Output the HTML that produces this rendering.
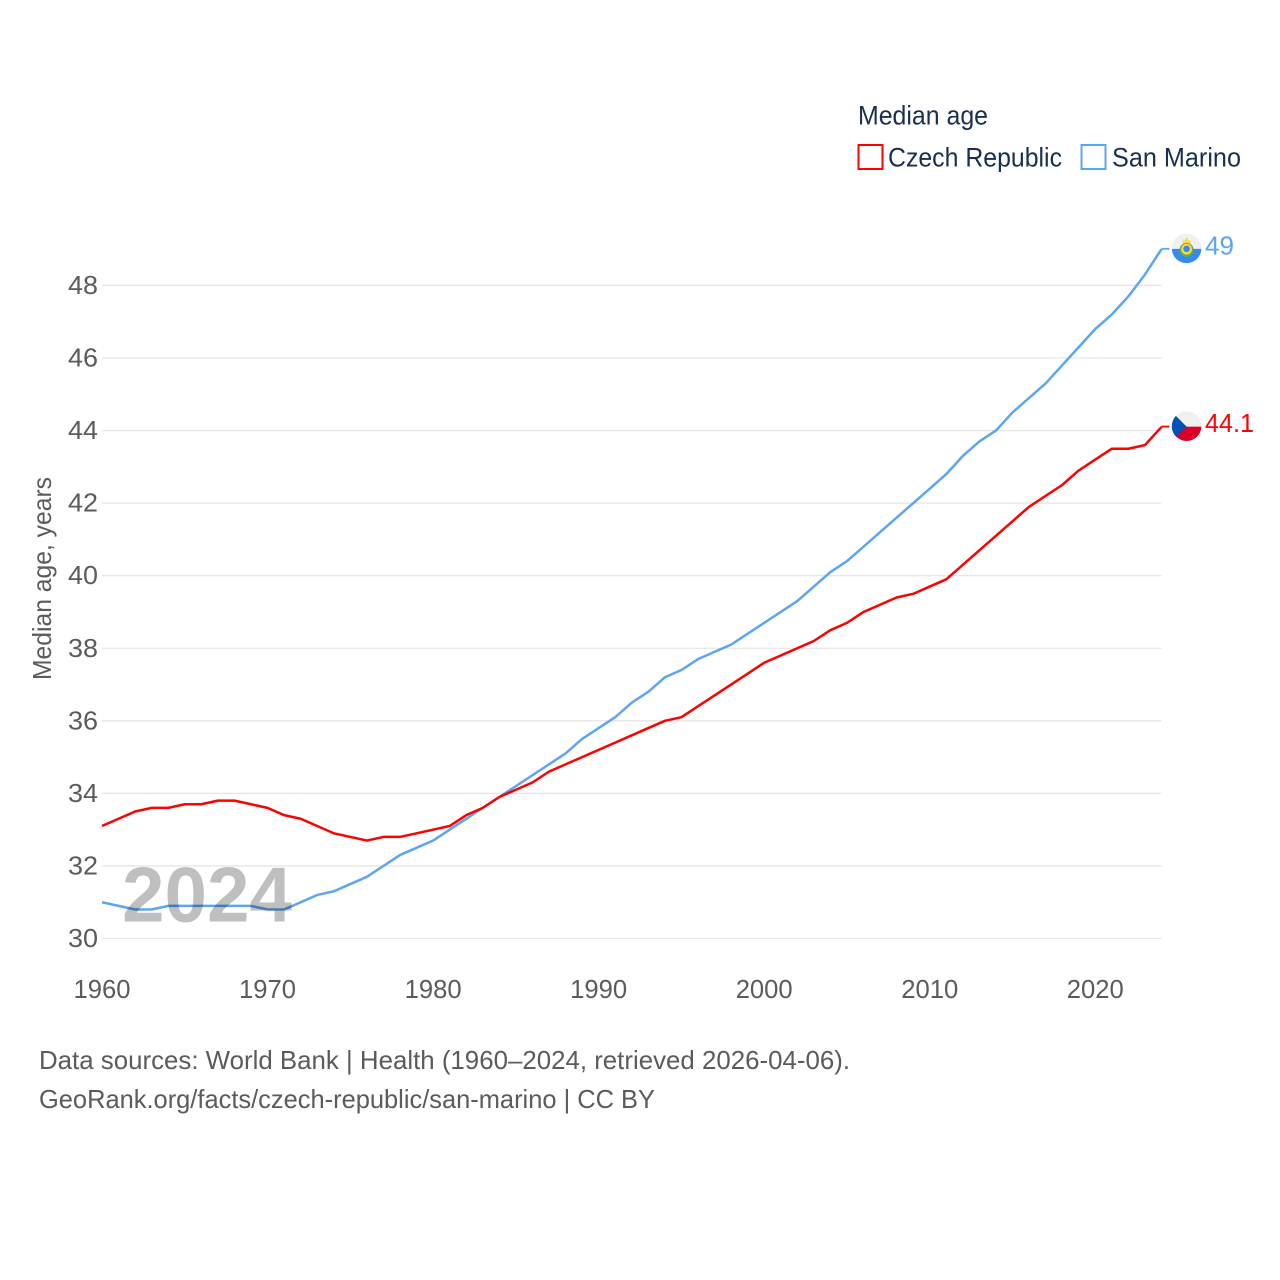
<!DOCTYPE html>
<html lang="en">
<head>
<meta charset="utf-8">
<title>Median age: Czech Republic and San Marino</title>
<style>
  html, body { margin: 0; padding: 0; background: #fff; }
  #chart { display: block; width: 1280px; height: 1280px; font-family: "Liberation Sans", sans-serif; }
  .tick { font-size: 26px; fill: #5b5b5b; }
  .legend { font-size: 27px; fill: #1a2f50; }
  .foot { font-size: 26px; fill: #5b5b5b; }
</style>
</head>
<body>
<svg id="chart" width="1280" height="1280" viewBox="0 0 1280 1280" xmlns="http://www.w3.org/2000/svg">
  <rect x="0" y="0" width="1280" height="1280" fill="#ffffff"/>
  <defs>
    <clipPath id="flag-clip"><circle cx="0" cy="0" r="14.8"/></clipPath>
  </defs>

  <g>
    <text class="legend" x="858" y="124.5" textLength="130" lengthAdjust="spacingAndGlyphs">Median age</text>
    <g>
      <rect x="858.5" y="145" width="24" height="24" fill="#fff" stroke="#ff0000" stroke-width="2"/>
      <text class="legend" x="888" y="166.5" textLength="174" lengthAdjust="spacingAndGlyphs">Czech Republic</text>
    </g>
    <g>
      <rect x="1081.5" y="145" width="24" height="24" fill="#fff" stroke="#5da5f0" stroke-width="2"/>
      <text class="legend" x="1112" y="166.5" textLength="129" lengthAdjust="spacingAndGlyphs">San Marino</text>
    </g>
  </g>

  <g id="grid"></g>
  <g id="y-axis"></g>
  <g id="x-axis"></g>

  <text class="tick" transform="translate(51,680) rotate(-90)" x="0" y="0" textLength="203" lengthAdjust="spacingAndGlyphs">Median age, years</text>

  <g id="series"></g>

  <text x="122" y="921.5" font-size="78" font-weight="700" fill="#000000" fill-opacity="0.25" textLength="170" lengthAdjust="spacingAndGlyphs">2024</text>

  <g id="flag-sm" clip-path="url(#flag-clip)">
    <rect x="-16" y="-16" width="32" height="16.5" fill="#f0f0f0"/>
    <rect x="-16" y="0.5" width="32" height="16" fill="#338af3"/>
    <path d="M-3.5 -4 L-4 -8 L-1.5 -8 L-1 -10.5 L1 -10.5 L1.5 -8 L4 -8 L3.5 -4 Z" fill="#ffda44"/>
    <circle cx="0" cy="1.5" r="7" fill="#6da544"/>
    <circle cx="0" cy="0.8" r="5.4" fill="#ffda44"/>
    <circle cx="0" cy="0.5" r="3.3" fill="#338af3"/>
  </g>
  <g id="flag-cz" clip-path="url(#flag-clip)">
    <rect x="-16" y="-16" width="32" height="16.5" fill="#f0f0f0"/>
    <rect x="-16" y="0.5" width="32" height="16" fill="#d80027"/>
    <polygon points="-16,-15.5 0,0.5 -16,16" fill="#0052b4"/>
  </g>

  <g>
    <text class="foot" x="39" y="1069" textLength="811" lengthAdjust="spacingAndGlyphs">Data sources: World Bank | Health (1960–2024, retrieved 2026-04-06).</text>
    <text class="foot" x="39" y="1108" textLength="616" lengthAdjust="spacingAndGlyphs">GeoRank.org/facts/czech-republic/san-marino | CC BY</text>
  </g>
</svg>
<script>
const startYear = 1960;
const endYear = 2024;
const xTickLabels = [1960, 1970, 1980, 1990, 2000, 2010, 2020];
const yTickLabels = [30, 32, 34, 36, 38, 40, 42, 44, 46, 48];
const czechRepublicValues = [
  33.1, 33.3, 33.5, 33.6, 33.6, 33.7, 33.7, 33.8, 33.8, 33.7,
  33.6, 33.4, 33.3, 33.1, 32.9, 32.8, 32.7, 32.8, 32.8, 32.9,
  33.0, 33.1, 33.4, 33.6, 33.9, 34.1, 34.3, 34.6, 34.8, 35.0,
  35.2, 35.4, 35.6, 35.8, 36.0, 36.1, 36.4, 36.7, 37.0, 37.3,
  37.6, 37.8, 38.0, 38.2, 38.5, 38.7, 39.0, 39.2, 39.4, 39.5,
  39.7, 39.9, 40.3, 40.7, 41.1, 41.5, 41.9, 42.2, 42.5, 42.9,
  43.2, 43.5, 43.5, 43.6, 44.1
];
const sanMarinoValues = [
  31.0, 30.9, 30.8, 30.8, 30.9, 30.9, 30.9, 30.9, 30.9, 30.9,
  30.8, 30.8, 31.0, 31.2, 31.3, 31.5, 31.7, 32.0, 32.3, 32.5,
  32.7, 33.0, 33.3, 33.6, 33.9, 34.2, 34.5, 34.8, 35.1, 35.5,
  35.8, 36.1, 36.5, 36.8, 37.2, 37.4, 37.7, 37.9, 38.1, 38.4,
  38.7, 39.0, 39.3, 39.7, 40.1, 40.4, 40.8, 41.2, 41.6, 42.0,
  42.4, 42.8, 43.3, 43.7, 44.0, 44.5, 44.9, 45.3, 45.8, 46.3,
  46.8, 47.2, 47.7, 48.3, 49.0
];

const NS = 'http://www.w3.org/2000/svg';
const plotLeft = 102;
const plotRight = 1161.5;
const y30 = 938.5;
const pxPerUnit = 36.28;

function xScale(year) {
  return plotLeft + (year - startYear) * (plotRight - plotLeft) / (endYear - startYear);
}
function yScale(value) {
  return y30 - (value - 30) * pxPerUnit;
}
function makeEl(tag) {
  return document.createElementNS(NS, tag);
}

const grid = document.getElementById('grid');
const yAxis = document.getElementById('y-axis');
const xAxis = document.getElementById('x-axis');
const series = document.getElementById('series');

yTickLabels.forEach(function (v) {
  const line = makeEl('line');
  
  
  line.setAttribute('x1', plotLeft);
  line.setAttribute('x2', plotRight);
  line.setAttribute('y1', yScale(v));
  line.setAttribute('y2', yScale(v));
  line.setAttribute('stroke', '#e6e6e6');
  line.setAttribute('stroke-width', '1.3');
  grid.appendChild(line);

  const label = makeEl('text');
  
  
  label.setAttribute('class', 'tick');
  label.setAttribute('x', 68);
  label.setAttribute('y', yScale(v) + 8.5);
  label.setAttribute('textLength', '30');
  label.setAttribute('lengthAdjust', 'spacingAndGlyphs');
  label.textContent = String(v);
  yAxis.appendChild(label);
});

xTickLabels.forEach(function (yr) {
  const label = makeEl('text');
  
  
  label.setAttribute('class', 'tick');
  label.setAttribute('x', xScale(yr) - 28.5);
  label.setAttribute('y', 998);
  label.setAttribute('textLength', '57');
  label.setAttribute('lengthAdjust', 'spacingAndGlyphs');
  label.textContent = String(yr);
  xAxis.appendChild(label);
});

function drawSeries(values, color, key, flagId, labelWidth) {
  const lastX = xScale(startYear + values.length - 1);
  const lastValue = values[values.length - 1];
  const lastY = yScale(lastValue);

  const pts = values.map(function (v, i) {
    return xScale(startYear + i).toFixed(2) + ',' + yScale(v).toFixed(2);
  });
  const line = makeEl('polyline');
  
  
  line.setAttribute('points', pts.join(' '));
  line.setAttribute('fill', 'none');
  line.setAttribute('stroke', color);
  line.setAttribute('stroke-width', '2.5');
  line.setAttribute('stroke-linejoin', 'round');
  series.appendChild(line);

  const connector = makeEl('line');
  
  
  connector.setAttribute('x1', lastX);
  connector.setAttribute('x2', lastX + 8);
  connector.setAttribute('y1', lastY - 0.4);
  connector.setAttribute('y2', lastY - 0.4);
  connector.setAttribute('stroke', color);
  connector.setAttribute('stroke-width', '1.8');
  series.appendChild(connector);

  document.getElementById(flagId).setAttribute('transform', 'translate(1186.6,' + (lastY - 0.8).toFixed(2) + ')');

  const label = makeEl('text');
  
  
  label.setAttribute('x', 1205);
  label.setAttribute('y', lastY + 5.2);
  label.setAttribute('font-size', '26');
  label.setAttribute('fill', color);
  label.setAttribute('textLength', labelWidth);
  label.setAttribute('lengthAdjust', 'spacingAndGlyphs');
  label.textContent = String(lastValue);
  series.appendChild(label);
}

drawSeries(sanMarinoValues, '#5da5f0', 'san-marino', 'flag-sm', 29);
drawSeries(czechRepublicValues, '#ff0000', 'czech-republic', 'flag-cz', 49);
</script>
</body>
</html>
